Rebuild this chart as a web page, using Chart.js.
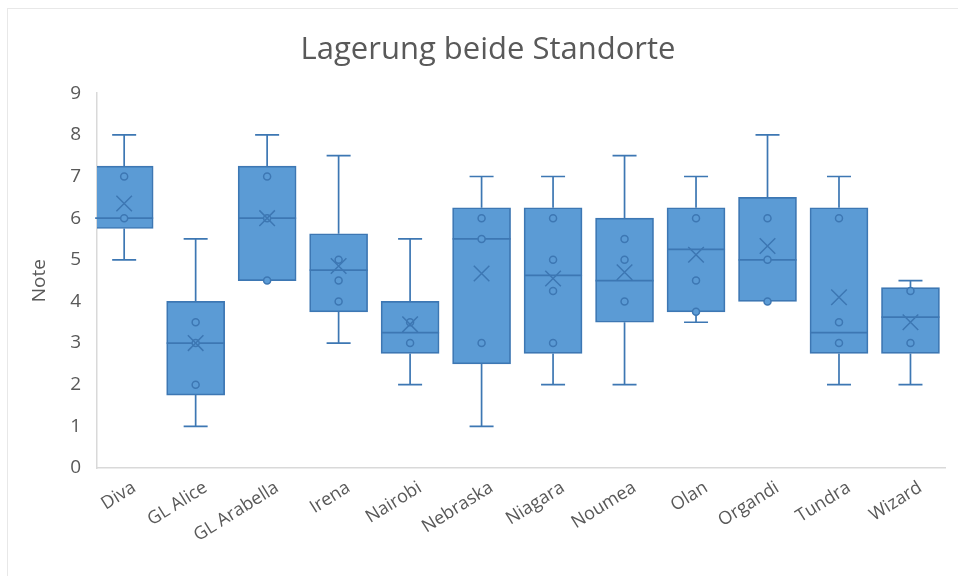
<!DOCTYPE html>
<html>
<head>
<meta charset="utf-8">
<script src="https://cdn.jsdelivr.net/npm/chart.js@4.4.1/dist/chart.umd.min.js"></script>
<style>
  html, body { margin: 0; padding: 0; background: #fff; }
  #wrap { position: relative; width: 958px; height: 576px; }
  #frame { position: absolute; left: 7px; top: 8px; right: -2px; bottom: -2px; border: 1px solid #e8e8e8; }
  canvas { position: absolute; left: 0; top: 0; }
</style>
</head>
<body>
<div id="wrap">
  <div id="frame"></div>
  <canvas id="chart" width="958" height="576"></canvas>
</div>
<script>
  // Box plot values
  var categories = ["Diva", "GL Alice", "GL Arabella", "Irena", "Nairobi", "Nebraska",
                    "Niagara", "Noumea", "Olan", "Organdi", "Tundra", "Wizard"];
  var whiskerMin = [5, 1, 4.5, 3, 2, 1, 2, 2, 3.5, 4, 2, 2];
  var q1 =         [5.75, 1.75, 4.5, 3.75, 2.75, 2.5, 2.75, 3.5, 3.75, 4, 2.75, 2.75];
  var median =     [6, 3, 6, 4.75, 3.25, 5.5, 4.625, 4.5, 5.25, 5, 3.25, 3.625];
  var q3 =         [7.25, 4, 7.25, 5.625, 4, 6.25, 6.25, 6, 6.25, 6.5, 6.25, 4.33];
  var whiskerMax = [8, 5.5, 8, 7.5, 5.5, 7, 7, 7.5, 7, 8, 7, 4.5];
  var means =      [6.35, 3, 6, 4.85, 3.45, 4.67, 4.55, 4.7, 5.12, 5.33, 4.1, 3.5];
  var innerPoints = [
    [7, 6],
    [3.5, 3, 2],
    [7, 6, 4.5],
    [5, 4.5, 4],
    [3.5, 3],
    [6, 5.5, 3],
    [6, 5, 4.25, 3],
    [5.5, 5, 4],
    [6, 4.5, 3.75],
    [6, 5, 4],
    [6, 3.5, 3],
    [4.25, 3]
  ];
  var yTicks = [0, 1, 2, 3, 4, 5, 6, 7, 8, 9];

  var FILL = "#5B9BD5";
  var LINE = "#3D77B3";
  var TEXT = "#595959";
  var AXIS = "#d9d9d9";
  var FONT = "'Open Sans', sans-serif";

  var boxData = categories.map(function (c, i) { return { x: i, y: [q1[i], q3[i]] }; });
  var meanData = categories.map(function (c, i) { return { x: i, y: means[i] }; });
  var pointData = [];
  innerPoints.forEach(function (list, i) {
    list.forEach(function (v) { pointData.push({ x: i, y: v }); });
  });

  // whiskers behind the boxes, median line right after the boxes
  var boxPlotPlugin = {
    id: "boxPlotExtras",
    beforeDatasetsDraw: function (chart) {
      var ctx = chart.ctx;
      var xs = chart.scales.x, ys = chart.scales.y;
      ctx.save();
      ctx.strokeStyle = LINE;
      ctx.lineWidth = 1.7;
      categories.forEach(function (c, i) {
        var x = xs.getPixelForValue(i);
        var cap = 12;
        [[whiskerMax[i], q3[i]], [whiskerMin[i], q1[i]]].forEach(function (pair) {
          if (pair[0] === pair[1]) return;
          var yEnd = ys.getPixelForValue(pair[0]);
          var yBox = ys.getPixelForValue(pair[1]);
          ctx.beginPath();
          ctx.moveTo(x, yEnd);
          ctx.lineTo(x, yBox);
          ctx.moveTo(x - cap, yEnd);
          ctx.lineTo(x + cap, yEnd);
          ctx.stroke();
        });
      });
      ctx.restore();
    },
    afterDatasetDraw: function (chart, args) {
      if (args.index !== 0) return;
      var ctx = chart.ctx;
      var ys = chart.scales.y;
      var meta = chart.getDatasetMeta(0);
      ctx.save();
      ctx.strokeStyle = LINE;
      ctx.lineWidth = 1.7;
      meta.data.forEach(function (bar, i) {
        var y = ys.getPixelForValue(median[i]);
        ctx.beginPath();
        ctx.moveTo(bar.x - bar.width / 2, y);
        ctx.lineTo(bar.x + bar.width / 2, y);
        ctx.stroke();
      });
      ctx.restore();
    }
  };

  new Chart(document.getElementById("chart"), {
    type: "bar",
    data: {
      datasets: [{
        type: "bar",
        order: 3,
        data: boxData,
        backgroundColor: FILL,
        borderColor: LINE,
        borderWidth: 1.7,
        borderSkipped: false,
        barThickness: 58
      }, {
        type: "scatter",
        order: 1,
        data: meanData,
        pointStyle: "crossRot",
        pointRadius: 11,
        borderColor: LINE,
        borderWidth: 1.5
      }, {
        type: "scatter",
        order: 2,
        data: pointData,
        pointStyle: "circle",
        pointRadius: 3.5,
        backgroundColor: FILL,
        borderColor: LINE,
        borderWidth: 1.5
      }]
    },
    options: {
      responsive: false,
      animation: false,
      layout: { padding: { left: 28, right: 10, top: 0, bottom: 0 } },
      plugins: {
        legend: { display: false },
        tooltip: { enabled: false },
        title: {
          display: true,
          text: "Lagerung beide Standorte",
          color: TEXT,
          font: { family: FONT, size: 31, weight: "normal" },
          padding: { top: 32, bottom: 24 }
        }
      },
      scales: {
        x: {
          type: "linear",
          min: -0.38,
          max: 11.49,
          offset: false,
          grid: { display: false, drawTicks: false },
          border: { display: true, color: AXIS, width: 1.5 },
          afterBuildTicks: function (scale) {
            scale.ticks = categories.map(function (c, i) { return { value: i }; });
          },
          afterFit: function (scale) { scale.height = 108; },
          ticks: {
            autoSkip: false,
            minRotation: 32,
            maxRotation: 32,
            padding: 9,
            labelOffset: 10,
            color: TEXT,
            font: { family: FONT, size: 18 },
            callback: function (v) { return categories[v]; }
          }
        },
        y: {
          min: 0,
          max: 9,
          grid: { display: false, drawTicks: false },
          border: { display: true, color: AXIS, width: 1.5 },
          afterBuildTicks: function (scale) {
            scale.ticks = yTicks.map(function (v) { return { value: v }; });
          },
          afterFit: function (scale) { scale.width = 69; },
          ticks: {
            color: TEXT,
            padding: 16,
            font: { family: FONT, size: 19 }
          },
          title: {
            display: true,
            text: "Note",
            color: TEXT,
            font: { family: FONT, size: 19 },
            padding: { top: 0, bottom: 0 }
          }
        }
      }
    },
    plugins: [boxPlotPlugin]
  });
</script>
</body>
</html>
